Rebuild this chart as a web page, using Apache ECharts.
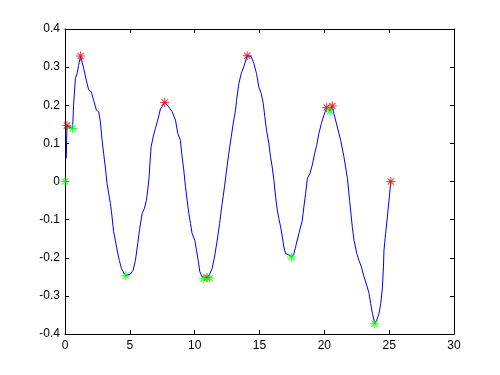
<!DOCTYPE html>
<html>
<head>
<meta charset="utf-8">
<script src="https://cdn.jsdelivr.net/npm/echarts@6/dist/echarts.min.js"></script>
<style>html,body{margin:0;padding:0;background:#fff;}#c{width:500px;height:375px;}</style>
</head>
<body>
<div id="c"></div>
<script>
var curveX = [0.10,0.15,0.40,0.59,0.66,0.80,0.93,1.05,1.20,1.44,1.64,1.82,2.03,2.21,2.42,2.60,2.73,2.86,2.98,3.11,3.24,3.50,3.63,3.75,3.88,4.02,4.19,4.35,4.53,4.68,5.04,5.25,5.43,5.61,5.76,5.95,6.12,6.28,6.38,6.49,6.53,6.64,6.80,6.97,7.15,7.36,7.69,8.00,8.26,8.52,8.70,8.90,9.03,9.16,9.29,9.42,9.55,9.68,9.80,10.01,10.14,10.27,10.40,10.58,10.70,11.04,11.17,11.35,11.53,11.74,11.92,12.12,12.30,12.46,12.63,12.82,12.97,13.15,13.23,13.41,13.59,13.79,14.05,14.36,14.56,14.77,14.95,15.13,15.29,15.41,15.54,15.72,15.85,15.98,16.11,16.24,16.37,16.49,16.63,16.76,16.88,17.01,17.27,17.48,17.65,17.78,18.04,18.30,18.42,18.56,18.69,18.89,19.07,19.25,19.41,19.58,19.77,19.97,20.18,20.43,20.62,20.74,21.00,21.26,21.51,21.78,21.95,22.16,22.29,22.50,22.67,22.86,23.06,23.27,23.45,23.57,23.71,23.88,24.04,24.22,24.35,24.48,24.56,24.60,24.73,24.86,24.99,25.12];
var curveY = [0.061,0.147,0.142,0.139,0.200,0.270,0.283,0.305,0.329,0.297,0.266,0.241,0.235,0.213,0.187,0.183,0.156,0.108,0.073,0.038,-0.005,-0.058,-0.093,-0.132,-0.154,-0.180,-0.207,-0.228,-0.240,-0.247,-0.243,-0.233,-0.207,-0.163,-0.123,-0.084,-0.071,-0.049,-0.023,0.012,0.038,0.091,0.117,0.139,0.161,0.190,0.207,0.196,0.183,0.161,0.126,0.108,0.065,0.030,-0.014,-0.049,-0.084,-0.110,-0.136,-0.154,-0.180,-0.207,-0.237,-0.250,-0.255,-0.252,-0.253,-0.228,-0.198,-0.154,-0.110,-0.058,-0.014,0.030,0.073,0.117,0.152,0.187,0.213,0.257,0.283,0.301,0.330,0.328,0.310,0.283,0.248,0.231,0.205,0.170,0.135,0.100,0.065,0.038,0.003,-0.040,-0.075,-0.097,-0.119,-0.145,-0.172,-0.189,-0.193,-0.198,-0.189,-0.172,-0.136,-0.102,-0.067,-0.031,0.008,0.021,0.043,0.073,0.095,0.126,0.152,0.174,0.194,0.185,0.198,0.178,0.143,0.108,0.065,0.008,-0.050,-0.120,-0.154,-0.189,-0.207,-0.224,-0.250,-0.272,-0.294,-0.320,-0.346,-0.373,-0.364,-0.346,-0.320,-0.277,-0.224,-0.180,-0.136,-0.093,-0.049,-0.001];
var maxX = [0.15,1.20,7.69,10.95,14.05,20.18,20.62,25.12];
var maxY = [0.147,0.329,0.207,-0.252,0.330,0.194,0.198,0.0];
var minX = [0.00,0.59,4.68,10.70,11.17,17.48,20.43,23.88];
var minY = [0.000,0.139,-0.247,-0.255,-0.253,-0.198,0.185,-0.373];
var xTicks = [0,5,10,15,20,25,30];
var yTicks = [-0.4,-0.3,-0.2,-0.1,0,0.1,0.2,0.3,0.4];

function pairs(xs, ys){ return xs.map(function(x,i){ return [x, ys[i]]; }); }
var star = 'path://M7.1,0 H8.9 V16 H7.1 Z M0,7.1 H16 V8.9 H0 Z M1.8,3.1 L3.1,1.8 L14.2,12.9 L12.9,14.2 Z M12.9,1.8 L14.2,3.1 L3.1,14.2 L1.8,12.9 Z';
var font = {fontFamily:'Liberation Sans, Arial, sans-serif', fontSize:12, color:'#000'};
function baseAxis(extra){
  var a = {
    type:'value', splitLine:{show:false},
    axisLine:{show:true, onZero:false, lineStyle:{color:'#000', width:1}},
    axisTick:{show:true, inside:true, length:4, lineStyle:{color:'#000'}}
  };
  for (var k in extra) a[k]=extra[k];
  return a;
}
var chart = echarts.init(document.getElementById('c'), null, {renderer:'canvas'});
chart.setOption({
  animation:false,
  backgroundColor:'#fff',
  grid:{left:65, right:46, top:29, bottom:41, containLabel:false},
  xAxis:[
    baseAxis({position:'bottom', min:xTicks[0], max:xTicks[xTicks.length-1], interval:5,
      axisLabel:Object.assign({margin:6, formatter:function(v){return String(v);}}, font)}),
    baseAxis({position:'top', min:xTicks[0], max:xTicks[xTicks.length-1], interval:5, axisLabel:{show:false}})
  ],
  yAxis:[
    baseAxis({position:'left', min:yTicks[0], max:yTicks[yTicks.length-1], interval:0.1,
      axisLabel:Object.assign({margin:5, formatter:function(v){ return Math.abs(v)<1e-9 ? '0' : v.toFixed(1); }}, font)}),
    baseAxis({position:'right', min:yTicks[0], max:yTicks[yTicks.length-1], interval:0.1, axisLabel:{show:false}})
  ],
  series:[
    {type:'line', data:pairs(curveX, curveY), showSymbol:false, symbol:'none', lineStyle:{color:'#0000ff', width:1}, z:2},
    {type:'scatter', data:pairs(maxX, maxY), symbol:star, symbolSize:9, itemStyle:{color:'#ff0000'}, z:3},
    {type:'scatter', data:pairs(minX, minY), symbol:star, symbolSize:9, itemStyle:{color:'#00ff00'}, z:4}
  ]
});
</script>
</body>
</html>
